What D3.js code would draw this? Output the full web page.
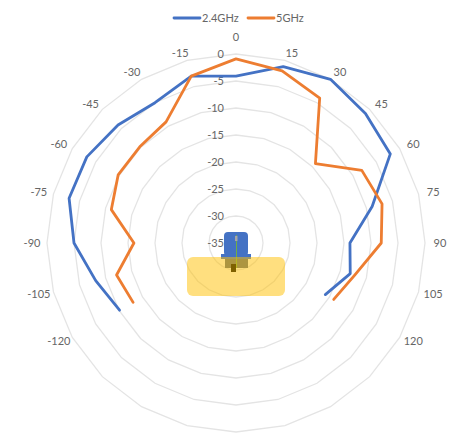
<!DOCTYPE html>
<html>
<head>
<meta charset="utf-8">
<script src="https://cdn.jsdelivr.net/npm/d3@7"></script>
<style>
  html, body { margin: 0; padding: 0; background: #fff; }
  text { font-family: Lato, "Open Sans", sans-serif; font-size: 11px; fill: #666; }
</style>
</head>
<body>
<div id="chart"></div>
<script>
// Values, dB per angle
const angles = [-120, -105, -90, -75, -60, -45, -30, -15, 0, 15, 30, 45, 60, 75, 90, 105, 120];
const wifi24 = [-10.1, -8.1, -5, -3, -3.1, -4.1, -5, -3, -4.1, -1.2, 0, -1.1, -2, -8.9, -13.9, -13.1, -15.9];
const wifi5 = [-13, -12.1, -16.1, -11.1, -9.8, -9.8, -9.1, -3, -0.9, -2, -4, -14.2, -8.1, -7, -8.1, -12.2, -14.1];
const ringTicks = [-35, -30, -25, -20, -15, -10, -5, 0];
const seriesNames = ['2.4GHz', '5GHz'];
const seriesColors = ['#4472C4', '#ED7D31'];

const width = 452, height = 439;
const cx = 236, cy = 243;

const svg = d3.select('#chart').append('svg')
  .attr('width', width)
  .attr('height', height)
  .style('display', 'block');

const r = d3.scaleLinear().domain([-35, 0]).range([0, 189]);
const theta = d3.scaleLinear().domain([0, 360]).range([0, 2 * Math.PI]);

const plot = svg.append('g').attr('transform', `translate(${cx},${cy})`);

// Rings are 24-sided, one corner every 15 degrees
const ringLine = d3.lineRadial()
  .angle(d => theta(d.a))
  .radius(d => r(d.v))
  .curve(d3.curveLinearClosed);

plot.append('g')
  .selectAll('path')
  .data(ringTicks.slice(1))
  .join('path')
    .attr('fill', 'none')
    .attr('stroke', '#e4e4e4')
    .attr('stroke-width', 1.3)
    .attr('d', v => ringLine(d3.range(0, 360, 15).map(a => ({ a, v }))));

// Radial axis labels
plot.append('g')
  .selectAll('text')
  .data(ringTicks)
  .join('text')
    .attr('x', -12)
    .attr('y', d => -r(d))
    .attr('dy', '0.35em')
    .attr('text-anchor', 'end')
    .text(d => d);

// Angle labels, pushed a bit sideways like the original
plot.append('g')
  .selectAll('text')
  .data(angles)
  .join('text')
    .attr('x', d => 200 * Math.sin(theta(d)) + 4 * Math.sign(d))
    .attr('y', d => -197 * Math.cos(theta(d)) - (d === 0 ? 9 : 0))
    .attr('dy', '0.35em')
    .attr('text-anchor', 'middle')
    .text(d => d);

// Coverage area and the device icon
const icon = plot.append('g');
icon.append('rect').attr('x', -12).attr('y', -11).attr('width', 24).attr('height', 24).attr('rx', 4).attr('fill', '#4472C4');
icon.append('rect').attr('x', -15).attr('y', 11).attr('width', 30).attr('height', 5).attr('fill', '#4472C4');
icon.append('rect').attr('x', -11).attr('y', 16).attr('width', 23).attr('height', 9).attr('fill', '#5a6a80');
icon.append('line').attr('x1', 0.5).attr('x2', 0.5).attr('y1', -8).attr('y2', 25).attr('stroke', '#70ad47').attr('stroke-width', 1);
icon.append('rect').attr('x', -1).attr('y', -7).attr('width', 2.5).attr('height', 5).attr('fill', '#a5a5a5');

plot.append('rect')
  .attr('x', -49).attr('y', 14)
  .attr('width', 98).attr('height', 39)
  .attr('rx', 6)
  .attr('fill', '#ffc000')
  .attr('fill-opacity', 0.5);

// Connector stub sits on top of the yellow area
plot.append('rect').attr('x', -5).attr('y', 21).attr('width', 5).attr('height', 8).attr('fill', '#7f6000');

// Series, left open between 120 and -120
const seriesLine = d3.lineRadial()
  .angle((d, i) => theta(angles[i]))
  .radius(d => r(d));

plot.append('g')
  .selectAll('path')
  .data([wifi24, wifi5])
  .join('path')
    .attr('fill', 'none')
    .attr('stroke', (d, i) => seriesColors[i])
    .attr('stroke-width', 2.8)
    .attr('stroke-linejoin', 'round')
    .attr('stroke-linecap', 'round')
    .attr('d', seriesLine);

// Legend
const legendX = [174, 248];
const legend = svg.append('g')
  .selectAll('g')
  .data(seriesNames)
  .join('g')
    .attr('transform', (d, i) => `translate(${legendX[i]},18)`);

legend.append('line')
  .attr('x1', 0).attr('x2', 26)
  .attr('stroke', (d, i) => seriesColors[i])
  .attr('stroke-width', 2.8)
  .attr('stroke-linecap', 'round');

legend.append('text')
  .attr('x', 28)
  .attr('dy', '0.35em')
  .text(d => d);
</script>
</body>
</html>
